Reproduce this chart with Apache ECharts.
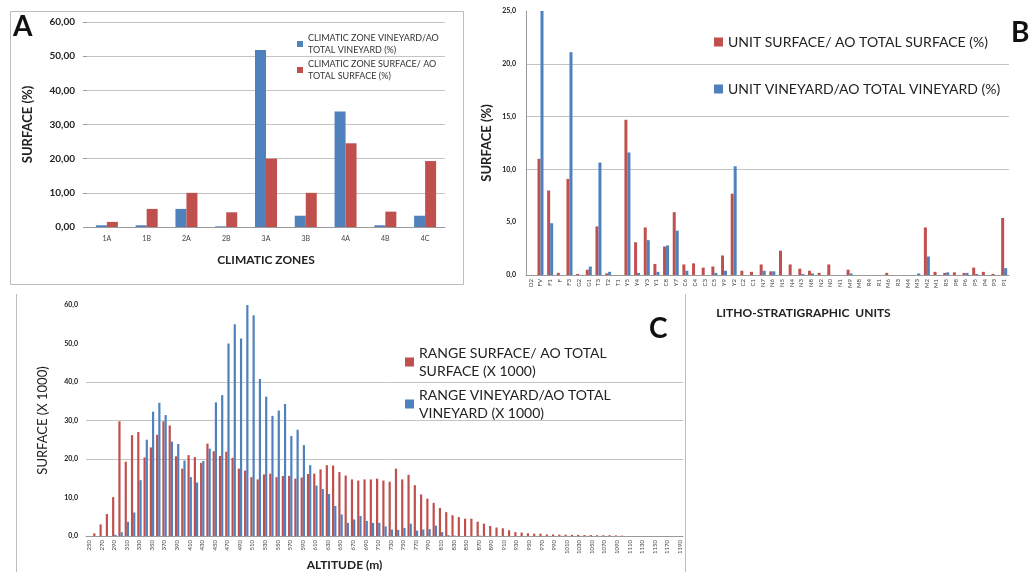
<!DOCTYPE html>
<html>
<head>
<meta charset="utf-8">
<script src="https://cdn.jsdelivr.net/npm/echarts/dist/echarts.min.js"></script>
<style>
  html, body { margin: 0; padding: 0; background: #fff; }
  #chart { width: 1031px; height: 572px; }
</style>
</head>
<body>
<div id="chart"></div>
<script>
// panel A - climatic zones
var zonesA = ['1A', '1B', '2A', '2B', '3A', '3B', '4A', '4B', '4C'];
var vineA = [0.5, 0.5, 5.3, 0.2, 51.8, 3.3, 33.8, 0.5, 3.3];
var surfA = [1.5, 5.3, 10.0, 4.3, 20.0, 10.0, 24.5, 4.5, 19.3];

// panel B - litho-stratigraphic units
var unitsB = ['D2', 'FV', 'F1', 'F', 'F3', 'G2', 'G1', 'T3', 'T2', 'T1',
  'Y5', 'Y4', 'Y3', 'Y1', 'C8', 'Y7', 'C6', 'C4', 'C3', 'C5',
  'Y9', 'Y2', 'C2', 'C1', 'N7', 'N6', 'N5', 'N4', 'N3', 'N8',
  'N2', 'N0', 'N1', 'M9', 'M8', 'R4', 'R1', 'M6', 'R3', 'M4',
  'M3', 'M2', 'M1', 'R5', 'P8', 'P6', 'P5', 'P4', 'P3', 'P1'];
var surfB = [0, 11.0, 8.0, 0.2, 9.1, 0.1, 0.5, 4.6, 0.15, 0,
  14.7, 3.1, 4.5, 1.05, 2.7, 5.95, 1.0, 1.1, 0.7, 0.8,
  1.85, 7.7, 0.4, 0.3, 1.0, 0.35, 2.3, 1.0, 0.6, 0.4,
  0.2, 1.0, 0, 0.5, 0, 0, 0, 0.2, 0, 0,
  0, 4.5, 0.3, 0.2, 0.25, 0.2, 0.7, 0.3, 0.1, 5.4];
var vineB = [0, 25.0, 4.9, 0, 21.1, 0, 0.8, 10.65, 0.3, 0,
  11.6, 0.2, 3.3, 0.3, 2.8, 4.2, 0.4, 0, 0, 0.2,
  0.4, 10.3, 0, 0, 0.4, 0.35, 0, 0, 0.1, 0.15,
  0, 0, 0, 0.15, 0, 0, 0, 0, 0, 0,
  0.15, 1.75, 0, 0.25, 0, 0.2, 0.1, 0, 0, 0.65];

// panel C - altitude ranges (m)
var altC = ['250', '260', '270', '280', '290', '300', '310', '320', '330', '340',
  '350', '360', '370', '380', '390', '400', '410', '420', '430', '440',
  '450', '460', '470', '480', '490', '500', '510', '520', '530', '540',
  '550', '560', '570', '580', '590', '600', '610', '620', '630', '640',
  '650', '660', '670', '680', '690', '700', '710', '720', '730', '740',
  '750', '760', '770', '780', '790', '800', '810', '820', '830', '840',
  '850', '860', '870', '880', '890', '900', '910', '920', '930', '940',
  '950', '960', '970', '980', '990', '1000', '1010', '1020', '1030', '1040',
  '1050', '1060', '1070', '1080', '1090', '1100', '1110', '1120', '1130', '1140',
  '1150', '1160', '1170', '1180', '1190'];
var surfC = [0, 0.7, 3.0, 5.7, 10.1, 29.8, 19.3, 26.2, 27.0, 20.4,
  23.0, 26.3, 29.8, 28.7, 20.7, 17.5, 21.0, 20.5, 19.0, 24.0,
  22.0, 20.8, 21.9, 20.3, 17.5, 17.0, 15.3, 14.7, 16.0, 16.2,
  15.3, 15.6, 15.6, 14.9, 15.2, 16.1, 16.2, 17.3, 18.4, 18.3,
  16.6, 15.7, 14.7, 14.4, 14.7, 14.7, 14.9, 14.4, 14.1, 17.5,
  14.7, 15.9, 13.2, 10.8, 9.7, 8.6, 7.3, 6.2, 5.4, 4.9,
  4.5, 4.5, 3.7, 3.2, 2.6, 2.2, 2.0, 1.5, 1.0, 0.9,
  0.7, 0.6, 0.6, 0.4, 0.4, 0.35, 0.35, 0.3, 0.3, 0.25,
  0.25, 0.2, 0.2, 0.2, 0.15, 0.1, 0, 0, 0, 0,
  0, 0, 0, 0, 0];
var vineC = [0, 0, 0, 0, 0.3, 1.0, 3.7, 6.1, 14.5, 25.0,
  32.3, 34.6, 31.4, 24.5, 23.9, 19.6, 15.3, 13.9, 19.5, 22.7,
  34.7, 36.6, 50.0, 55.0, 51.3, 60.0, 57.3, 40.8, 36.2, 31.2,
  32.6, 34.3, 26.0, 27.6, 23.6, 18.4, 13.1, 12.2, 10.9, 7.8,
  5.6, 3.4, 4.3, 5.2, 3.9, 3.4, 3.4, 2.5, 1.7, 1.6,
  2.1, 3.2, 1.4, 1.7, 1.8, 2.7, 1.0, 0.2, 0.1, 0,
  0, 0, 0.1, 0, 0, 0, 0, 0, 0, 0,
  0, 0, 0, 0, 0, 0, 0, 0, 0, 0,
  0, 0, 0, 0, 0, 0, 0, 0, 0, 0,
  0, 0, 0, 0, 0];

var BLUE = '#4F81BD';
var RED = '#C0504D';
var FONT = 'Lato';
var GRIDC = '#c4c4c4';
var NONE = 'rgba(0,0,0,0)';

var legA = ['CLIMATIC ZONE VINEYARD/AO TOTAL VINEYARD (%)', 'CLIMATIC ZONE SURFACE/ AO TOTAL SURFACE (%)'];
var legB = ['UNIT SURFACE/ AO TOTAL SURFACE (%)', 'UNIT VINEYARD/AO TOTAL VINEYARD (%)'];
var legC = ['RANGE SURFACE/ AO TOTAL SURFACE (X 1000)', 'RANGE VINEYARD/AO TOTAL VINEYARD (X 1000)'];
var legWrap = {};
legWrap[legA[0]] = 'CLIMATIC ZONE VINEYARD/AO\nTOTAL VINEYARD (%)';
legWrap[legA[1]] = 'CLIMATIC ZONE SURFACE/ AO\nTOTAL SURFACE (%)';
legWrap[legC[0]] = 'RANGE SURFACE/ AO TOTAL\nSURFACE (X 1000)';
legWrap[legC[1]] = 'RANGE VINEYARD/AO TOTAL\nVINEYARD (X 1000)';
function wrap(n) { return legWrap[n] || n; }

function comma(d) {
  return function (v) { return v.toFixed(d).replace('.', ','); };
}

var myChart = echarts.init(document.getElementById('chart'));

var option = {
  animation: false,
  textStyle: { fontFamily: FONT },
  grid: [
    { left: 87, top: 22, width: 358, height: 205 },
    { left: 526, top: 11, width: 483, height: 264 },
    { left: 86, top: 305, width: 597, height: 232 }
  ],
  legend: [
    {
      data: legA, orient: 'vertical', left: 292, top: 27, itemGap: 2,
      itemWidth: 6, itemHeight: 6, icon: 'rect', selectedMode: false,
      formatter: wrap,
      textStyle: { fontSize: 9, color: '#333', lineHeight: 12, fontFamily: FONT }
    },
    {
      data: legB, orient: 'vertical', left: 709, top: 30, itemGap: 33,
      itemWidth: 9, itemHeight: 9, icon: 'rect', selectedMode: false,
      textStyle: { fontSize: 14, color: '#222', fontFamily: FONT }
    },
    {
      data: legC, orient: 'vertical', left: 400, top: 339, itemGap: 6,
      itemWidth: 9, itemHeight: 9, icon: 'rect', selectedMode: false,
      formatter: wrap,
      textStyle: { fontSize: 14, color: '#222', lineHeight: 18, fontFamily: FONT }
    }
  ],
  xAxis: [
    {
      type: 'category', gridIndex: 0, data: zonesA,
      name: 'CLIMATIC ZONES', nameLocation: 'middle', nameGap: 27,
      nameTextStyle: { fontSize: 12, fontWeight: 'bold', color: '#222' },
      axisLine: { lineStyle: { color: '#9a9a9a' } },
      axisTick: { length: 4, lineStyle: { color: '#9a9a9a' } },
      axisLabel: { fontSize: 7, color: '#444', margin: 8 }
    },
    {
      type: 'category', gridIndex: 1, data: unitsB,
      name: 'LITHO-STRATIGRAPHIC  UNITS', nameLocation: 'middle', nameGap: 32,
      nameTextStyle: { fontSize: 12, fontWeight: 'bold', color: '#222', padding: [0, 0, 0, 72] },
      axisLine: { lineStyle: { color: '#9a9a9a' } },
      axisTick: { show: false },
      axisLabel: { fontSize: 6, color: '#444', rotate: 90, interval: 0, margin: 4 }
    },
    {
      type: 'category', gridIndex: 2, data: altC,
      name: 'ALTITUDE (m)', nameLocation: 'middle', nameGap: 23,
      nameTextStyle: { fontSize: 12, fontWeight: 'bold', color: '#222', padding: [0, 80, 0, 0] },
      axisLine: { lineStyle: { color: '#9a9a9a' } },
      axisTick: { interval: 1, length: 2, lineStyle: { color: '#9a9a9a' } },
      axisLabel: { fontSize: 6, color: '#444', rotate: 90, interval: 1, margin: 4 }
    }
  ],
  yAxis: [
    {
      type: 'value', gridIndex: 0, min: 0, max: 60, interval: 10,
      name: 'SURFACE (%)', nameLocation: 'middle', nameGap: 53,
      nameTextStyle: { fontSize: 13, fontWeight: 'bold', color: '#222' },
      axisLine: { show: false },
      axisTick: { show: true, length: 4, lineStyle: { color: '#9a9a9a' } },
      axisLabel: { fontSize: 10, fontWeight: 'bold', color: '#222', margin: 12, formatter: comma(2) },
      splitLine: { lineStyle: { color: GRIDC } }
    },
    {
      type: 'value', gridIndex: 1, min: 0, max: 25, interval: 5,
      name: 'SURFACE (%)', nameLocation: 'middle', nameGap: 33,
      nameTextStyle: { fontSize: 13, fontWeight: 'bold', color: '#222' },
      axisLine: { show: true, lineStyle: { color: '#9a9a9a' } },
      axisTick: { show: false },
      axisLabel: { fontSize: 7, fontWeight: 'bold', color: '#222', margin: 10, formatter: comma(1) },
      splitLine: { lineStyle: { color: [NONE, NONE, GRIDC, GRIDC, GRIDC, NONE] } }
    },
    {
      type: 'value', gridIndex: 2, min: 0, max: 60, interval: 10,
      name: 'SURFACE (X 1000)', nameLocation: 'middle', nameGap: 37,
      nameTextStyle: { fontSize: 13, color: '#222' },
      axisLine: { show: false },
      axisTick: { show: false },
      axisLabel: { fontSize: 7, fontWeight: 'bold', color: '#222', margin: 8, formatter: comma(1) },
      splitLine: { lineStyle: { color: [NONE, NONE, GRIDC, GRIDC, GRIDC, NONE, NONE] } }
    }
  ],
  series: [
    { name: legA[0], type: 'bar', xAxisIndex: 0, yAxisIndex: 0, data: vineA,
      barWidth: 11, barGap: '0%', itemStyle: { color: BLUE } },
    { name: legA[1], type: 'bar', xAxisIndex: 0, yAxisIndex: 0, data: surfA,
      barWidth: 11, barGap: '0%', itemStyle: { color: RED } },
    { name: legB[0], type: 'bar', xAxisIndex: 1, yAxisIndex: 1, data: surfB,
      barWidth: 3, barGap: '0%', itemStyle: { color: RED } },
    { name: legB[1], type: 'bar', xAxisIndex: 1, yAxisIndex: 1, data: vineB,
      barWidth: 3, barGap: '0%', itemStyle: { color: BLUE } },
    { name: legC[0], type: 'bar', xAxisIndex: 2, yAxisIndex: 2, data: surfC,
      barWidth: 2.2, barGap: '0%', itemStyle: { color: RED } },
    { name: legC[1], type: 'bar', xAxisIndex: 2, yAxisIndex: 2, data: vineC,
      barWidth: 2.2, barGap: '0%', itemStyle: { color: BLUE } }
  ],
  graphic: [
    { type: 'rect', left: 8, top: 9, shape: { width: 453, height: 273 },
      style: { fill: 'none', stroke: '#bdbdbd', lineWidth: 1 } },
    { type: 'line', shape: { x1: 16.5, y1: 294, x2: 16.5, y2: 572 },
      style: { stroke: '#bdbdbd', lineWidth: 1 } },
    { type: 'line', shape: { x1: 685.5, y1: 294, x2: 685.5, y2: 572 },
      style: { stroke: '#bdbdbd', lineWidth: 1 } },
    { type: 'text', left: 13, top: 13,
      style: { text: 'A', font: 'bold 28px ' + FONT, fill: '#111' } },
    { type: 'text', left: 1011, top: 19,
      style: { text: 'B', font: 'bold 28px ' + FONT, fill: '#111' } },
    { type: 'text', left: 649, top: 315,
      style: { text: 'C', font: 'bold 28px ' + FONT, fill: '#111' } }
  ]
};

myChart.setOption(option);
window.addEventListener('resize', function () {
  myChart.resize();
});
</script>
</body>
</html>
